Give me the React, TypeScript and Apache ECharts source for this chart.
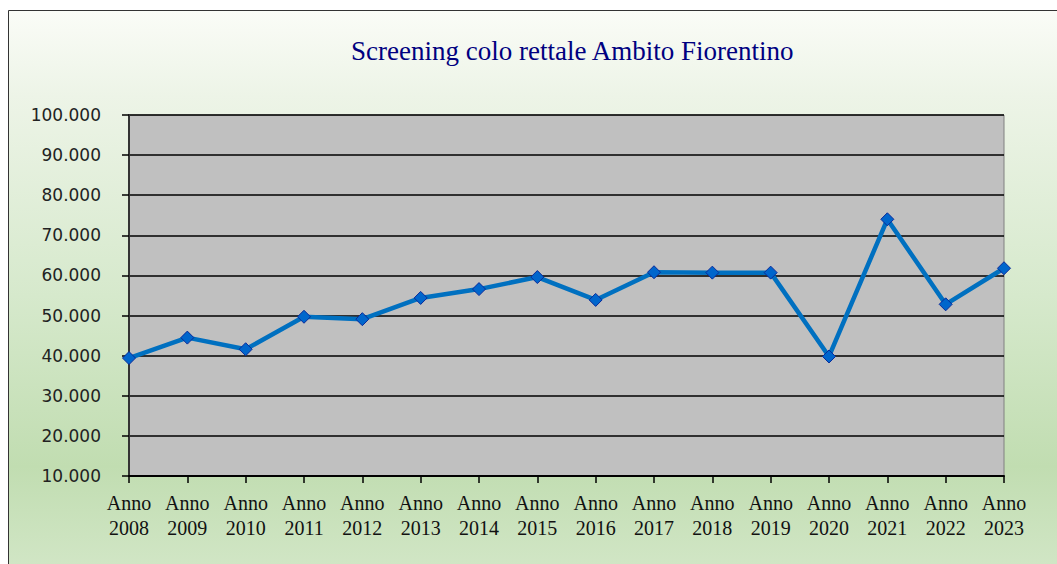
import React, { useEffect, useRef } from "react";
import * as echarts from "echarts";

const categories = [
  "Anno\n2008", "Anno\n2009", "Anno\n2010", "Anno\n2011", "Anno\n2012", "Anno\n2013",
  "Anno\n2014", "Anno\n2015", "Anno\n2016", "Anno\n2017", "Anno\n2018", "Anno\n2019",
  "Anno\n2020", "Anno\n2021", "Anno\n2022", "Anno\n2023",
];
const values = [
  39400, 44500, 41600, 49700, 49100, 54400, 56600, 59600,
  53900, 60800, 60700, 60700, 39800, 74000, 52800, 61800,
];
const yMin = 10000;
const yMax = 100000;
const yStep = 10000;
const title = "Screening colo rettale Ambito Fiorentino";

function fmt(v: number): string {
  return String(v).replace(/\B(?=(\d{3})+(?!\d))/g, ".");
}

export default function App() {
  const ref = useRef<HTMLDivElement>(null);
  useEffect(() => {
    if (!ref.current) return;
    const chart = echarts.init(ref.current, undefined, { renderer: "svg" });
    chart.setOption({
      animation: false,
      backgroundColor: "#ffffff",
      graphic: [
        {
          type: "rect",
          z: -10,
          silent: true,
          shape: { x: 8.5, y: 10.5, width: 1060, height: 570 },
          style: {
            fill: new echarts.graphic.LinearGradient(0, 0, 0, 1, [
              { offset: 0, color: "#fafcf7" },
              { offset: 0.15, color: "#edf4e7" },
              { offset: 0.5, color: "#d6e9cc" },
              { offset: 0.8, color: "#c1ddb1" },
              { offset: 1, color: "#d3e7c8" },
            ]),
            stroke: "#333333",
            lineWidth: 1,
          },
        },
      ],
      title: {
        text: title,
        left: 346,
        top: 32,
        textStyle: {
          fontFamily: "Liberation Serif",
          fontSize: 27,
          fontWeight: "normal",
          color: "#000080",
        },
      },
      grid: {
        left: 129,
        right: 53,
        top: 115,
        bottom: 88,
        show: true,
        backgroundColor: "#c0c0c0",
        borderColor: "#808080",
        borderWidth: 1,
      },
      xAxis: {
        type: "category",
        data: categories,
        boundaryGap: false,
        axisLine: { show: true, lineStyle: { color: "#000000", width: 2 } },
        axisTick: { show: true, length: 7, lineStyle: { color: "#000000", width: 1.5 } },
        axisLabel: {
          interval: 0,
          margin: 14,
          fontFamily: "Liberation Serif",
          fontSize: 20,
          lineHeight: 25,
          color: "#111111",
        },
        splitLine: { show: false },
      },
      yAxis: {
        type: "value",
        min: yMin,
        max: yMax,
        interval: yStep,
        axisLine: { show: true, lineStyle: { color: "#333333", width: 2 } },
        axisTick: { show: true, length: 7, lineStyle: { color: "#000000", width: 1.5 } },
        axisLabel: {
          margin: 28,
          fontFamily: "DejaVu Sans",
          fontSize: 17,
          color: "#222222",
          formatter: (v: number) => fmt(v),
        },
        splitLine: { show: true, lineStyle: { color: "#000000", width: 1.5 } },
      },
      series: [
        {
          type: "line",
          data: values,
          symbol: "diamond",
          symbolSize: 13,
          lineStyle: { color: "#0070c0", width: 4.5 },
          itemStyle: { color: "#0066cc", borderColor: "#0a2a9a", borderWidth: 1 },
        },
      ],
    });
    return () => chart.dispose();
  }, []);
  return (
    <div
      ref={ref}
      style={{ position: "absolute", left: 0, top: 0, width: 1057, height: 564 }}
    />
  );
}
